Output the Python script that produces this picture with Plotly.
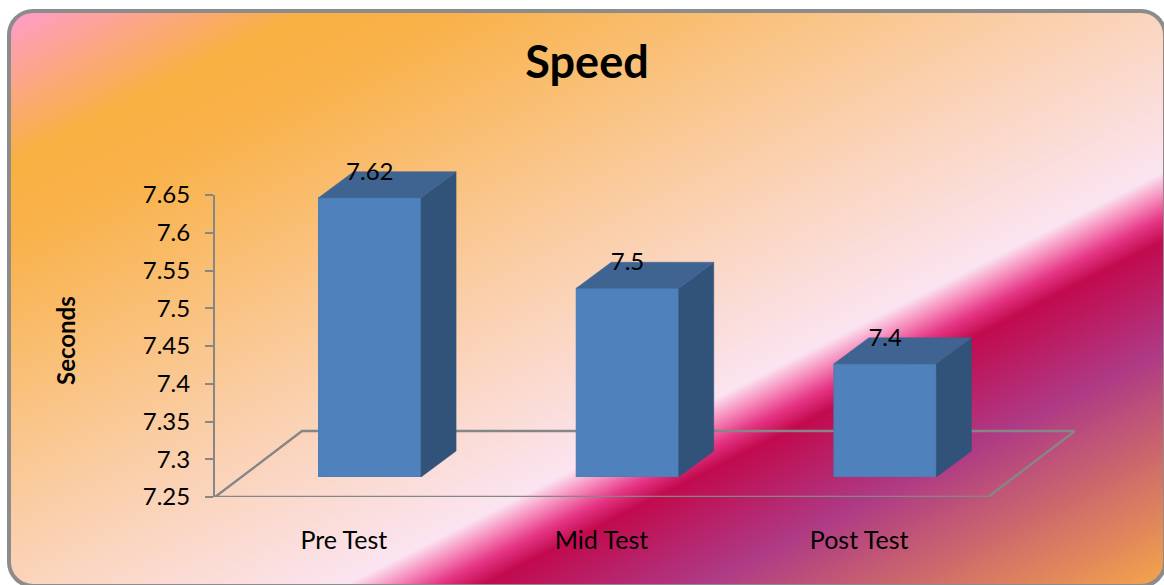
import base64
import plotly.graph_objects as go

# Chart content
categories = ["Pre Test", "Mid Test", "Post Test"]
seconds = [7.62, 7.5, 7.4]
y_ticks = [7.25, 7.3, 7.35, 7.4, 7.45, 7.5, 7.55, 7.6, 7.65]
y_tick_labels = ["7.25", "7.3", "7.35", "7.4", "7.45", "7.5", "7.55", "7.6", "7.65"]
base_value = 7.25

W, H = 1164, 585
FONT = "Lato"
GREY = "#868686"

# Axis rectangle in pixels; the floor runs 87 px past its right edge
LEFT, RIGHT, TOP, BOTTOM = 215, 988, 195, 497
px_per_cat = (RIGHT - LEFT) / 3
px_per_val = (BOTTOM - TOP) / 0.4


def dx(px):
    return px / px_per_cat


def dy(px):
    return px / px_per_val


# Chart-area panel: rounded frame with a diagonal multi-stop gradient
panel_svg = f"""<svg xmlns="http://www.w3.org/2000/svg" width="{W}" height="{H}" viewBox="0 0 {W} {H}">
<defs><linearGradient id="g" gradientUnits="userSpaceOnUse" x1="10" y1="12" x2="473" y2="929">
<stop offset="0" stop-color="#FF9CCB"/>
<stop offset="0.13" stop-color="#F9B042"/>
<stop offset="0.20" stop-color="#F9B24A"/>
<stop offset="0.645" stop-color="#FBE4F1"/>
<stop offset="0.665" stop-color="#F68CBC"/>
<stop offset="0.685" stop-color="#E53585"/>
<stop offset="0.705" stop-color="#C20A4E"/>
<stop offset="0.80" stop-color="#AE3A85"/>
<stop offset="1" stop-color="#F3A34C"/>
</linearGradient></defs>
<rect x="9" y="11" width="1156" height="575" rx="24" ry="24" fill="url(#g)" stroke="#8C8C8C" stroke-width="4"/>
</svg>"""
panel_uri = "data:image/svg+xml;base64," + base64.b64encode(panel_svg.encode()).decode()

fig = go.Figure()

# Floor of the pseudo-3D box
depth_x, depth_y = dx(87), dy(66)
x_lo, x_hi = -0.5, 2.5
fig.add_trace(go.Scatter(
    x=[x_lo, x_hi, x_hi + depth_x, x_lo + depth_x, x_lo],
    y=[base_value, base_value, base_value + depth_y, base_value + depth_y, base_value],
    mode="lines", line=dict(color=GREY, width=2.4),
    hoverinfo="skip", showlegend=False,
))

# Bars live on their own axes, 26 px right of and 20 px above the floor's front edge
BAR_LEFT, BAR_BOTTOM = LEFT + 26, BOTTOM - 20
BAR_RIGHT, BAR_TOP = 1100, 120
positions = list(range(len(categories)))
bar_width = 102.5 / px_per_cat
side_x, side_y = dx(35), dy(26)
half = bar_width / 2

fig.add_trace(go.Bar(
    x=positions, y=[v - base_value for v in seconds], base=base_value,
    width=bar_width, marker=dict(color="#4F81BD", line=dict(color="#4A7AB3", width=1)),
    xaxis="x2", yaxis="y2", hoverinfo="skip", showlegend=False,
))

for p, v in zip(positions, seconds):
    # Right-hand face
    fig.add_trace(go.Scatter(
        x=[p + half, p + half + side_x, p + half + side_x, p + half, p + half],
        y=[base_value, base_value + side_y, v + side_y, v, base_value],
        mode="lines", fill="toself", fillcolor="#325379",
        line=dict(color="#325379", width=0.5),
        xaxis="x2", yaxis="y2", hoverinfo="skip", showlegend=False,
    ))
    # Top face
    fig.add_trace(go.Scatter(
        x=[p - half, p + half, p + half + side_x, p - half + side_x, p - half],
        y=[v, v, v + side_y, v + side_y, v],
        mode="lines", fill="toself", fillcolor="#3F6491",
        line=dict(color="#3F6491", width=0.5),
        xaxis="x2", yaxis="y2", hoverinfo="skip", showlegend=False,
    ))

# Value labels over the back edge of each bar top
fig.add_trace(go.Scatter(
    x=positions, y=[v + side_y - dy(2) for v in seconds],
    mode="text", text=[str(v) for v in seconds], textposition="middle center",
    textfont=dict(family=FONT, size=24, color="black"),
    xaxis="x2", yaxis="y2", hoverinfo="skip", showlegend=False,
))

fig.update_layout(
    width=W, height=H,
    margin=dict(l=0, r=0, t=0, b=0, autoexpand=False),
    paper_bgcolor="white", plot_bgcolor="rgba(0,0,0,0)",
    showlegend=False,
    images=[dict(source=panel_uri, xref="paper", yref="paper", x=0, y=1,
                 sizex=1, sizey=1, xanchor="left", yanchor="top",
                 sizing="stretch", layer="below")],
    title=dict(text="<b>Speed</b>", x=587 / W, xanchor="center", y=1 - 62 / H, yanchor="middle",
               font=dict(family=FONT, size=45, color="black")),
    annotations=[dict(
        text="<b>Seconds</b>", textangle=-90, showarrow=False,
        xref="paper", yref="paper", x=65 / W, y=1 - 341 / H,
        xanchor="center", yanchor="middle",
        font=dict(family=FONT, size=24, color="black"),
    )],
    xaxis=dict(
        domain=[LEFT / W, (RIGHT + 87) / W], range=[x_lo, x_hi + depth_x],
        tickmode="array", tickvals=positions,
        ticktext=categories, tickangle=0, showgrid=False, zeroline=False, showline=False,
        ticks="outside", ticklen=21, tickcolor="rgba(0,0,0,0)",
        tickfont=dict(family=FONT, size=25, color="black"),
    ),
    yaxis=dict(
        domain=[(H - BOTTOM) / H, (H - TOP) / H], range=[7.25, 7.65], tickmode="array",
        tickvals=y_ticks, ticktext=y_tick_labels, showgrid=False, zeroline=False, showline=True,
        linecolor=GREY, linewidth=2, ticks="outside", ticklen=8, tickwidth=2, tickcolor=GREY,
        ticklabelstandoff=10,
        tickfont=dict(family=FONT, size=24, color="black"),
    ),
    xaxis2=dict(
        domain=[BAR_LEFT / W, BAR_RIGHT / W], anchor="y2", visible=False,
        range=[x_lo, x_lo + dx(BAR_RIGHT - BAR_LEFT)],
    ),
    yaxis2=dict(
        domain=[(H - BAR_BOTTOM) / H, (H - BAR_TOP) / H], anchor="x2", visible=False,
        range=[base_value, base_value + dy(BAR_BOTTOM - BAR_TOP)],
    ),
)

fig.write_html("out.html")
